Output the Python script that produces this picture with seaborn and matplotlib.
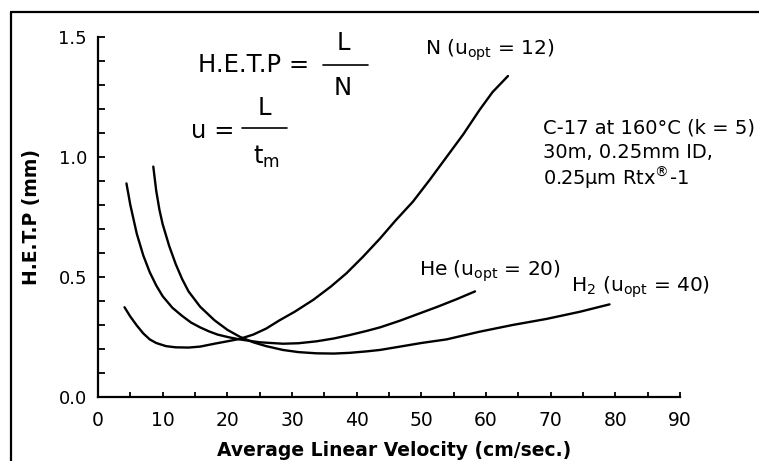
import numpy as np
import matplotlib
matplotlib.use("Agg")
import matplotlib.pyplot as plt
import seaborn as sns
from matplotlib.lines import Line2D

# van Deemter curves (x = cm/sec, y = mm)
n_x = [4.1, 5.0, 6.0, 7.0, 8.0, 9.0, 10.5, 12.0, 14.0, 15.8, 18.0, 20.0, 21.9, 24.0, 26.0,
       28.1, 30.4, 33.3, 36.0, 38.4, 41.0, 43.6, 46.0, 48.7, 51.3, 53.9, 56.5, 59.0, 61.0, 63.4]
n_y = [0.374, 0.335, 0.298, 0.265, 0.24, 0.225, 0.212, 0.207, 0.206, 0.21, 0.222, 0.232, 0.242, 0.26, 0.285,
       0.32, 0.355, 0.405, 0.46, 0.515, 0.585, 0.66, 0.735, 0.814, 0.905, 1.0, 1.095, 1.196, 1.27, 1.3375]

he_x = [4.4, 5.0, 6.0, 7.0, 8.0, 9.0, 10.0, 11.5, 13.0, 14.4, 15.8, 17.2, 18.5, 20.2, 21.9, 25.0, 28.6, 31.0,
        33.8, 36.5, 38.9, 41.5, 43.6, 46.7, 49.8, 52.5, 55.5, 58.3]
he_y = [0.89, 0.80, 0.68, 0.59, 0.52, 0.465, 0.42, 0.372, 0.338, 0.31, 0.29, 0.273, 0.26, 0.249, 0.24, 0.228,
        0.222, 0.224, 0.232, 0.244, 0.258, 0.275, 0.29, 0.318, 0.349, 0.376, 0.408, 0.44]

h2_x = [8.55, 9.0, 9.5, 10.0, 11.0, 12.0, 13.0, 14.0, 15.8, 18.0, 20.0, 22.0, 24.0, 26.0, 28.6, 31.0,
        33.8, 36.5, 38.9, 41.5, 43.6, 46.7, 50.0, 53.9, 59.0, 64.1, 69.3, 74.5, 79.1]
h2_y = [0.96, 0.86, 0.78, 0.72, 0.63, 0.555, 0.492, 0.44, 0.376, 0.32, 0.28, 0.25, 0.228, 0.212, 0.196, 0.187,
        0.182, 0.181, 0.184, 0.19, 0.196, 0.21, 0.225, 0.24, 0.272, 0.30, 0.325, 0.355, 0.386]

x_ticks = [0, 10, 20, 30, 40, 50, 60, 70, 80, 90]
y_ticks = [0.0, 0.5, 1.0, 1.5]
y_tick_labels = ["0.0", "0.5", "1.0", "1.5"]

sns.set_style("ticks")
plt.rcParams["font.family"] = ["DejaVu Sans"]
plt.rcParams["mathtext.fontset"] = "dejavusans"
for key in ["text.color", "axes.labelcolor", "xtick.color", "ytick.color", "axes.edgecolor"]:
    plt.rcParams[key] = "black"

W, H = 759, 461
fig = plt.figure(figsize=(W / 100, H / 100), dpi=100)
ax = fig.add_axes([98 / W, 64 / H, 582 / W, 360 / H])

for xs, ys in [(n_x, n_y), (he_x, he_y), (h2_x, h2_y)]:
    sns.lineplot(x=xs, y=ys, ax=ax, color="black", lw=1.7, sort=False, estimator=None)

ax.set_xlim(0, 90)
ax.set_ylim(0, 1.5)
sns.despine(ax=ax)
for s in ["left", "bottom"]:
    ax.spines[s].set_linewidth(1.6)

ax.set_xticks(x_ticks)
ax.set_xticks(np.arange(5, 90, 10), minor=True)
ax.set_yticks(y_ticks)
ax.set_yticklabels(y_tick_labels)
ax.set_yticks(np.arange(0.1, 1.5, 0.1), minor=True)
ax.tick_params(axis="x", which="both", direction="in", length=3.5, width=1.3, labelsize=13.5, pad=10)
ax.tick_params(axis="y", which="both", direction="in", length=5, width=1.3, labelsize=13, pad=8)

ax.set_xlabel("Average Linear Velocity (cm/sec.)", fontsize=13.5, fontweight="bold")
ax.set_ylabel("H.E.T.P (mm)", fontsize=13.5, fontweight="bold")
ax.xaxis.set_label_coords(0.5086, -0.122)
ax.yaxis.set_label_coords(-0.098, 0.5)


def px(x, y):
    # pixel position in the picture -> data coordinates
    return (x - 98) / 582 * 90, (397 - y) / 360 * 1.5


fs_eq = 17.5
ax.text(*px(198, 65), "H.E.T.P =", fontsize=fs_eq, ha="left", va="center")
ax.text(*px(343, 43), "L", fontsize=fs_eq, ha="center", va="center")
ax.text(*px(343, 88), "N", fontsize=fs_eq, ha="center", va="center")
ax.plot(*zip(px(323, 65), px(368, 65)), color="black", lw=1.2)

ax.text(*px(234, 131), "u =", fontsize=fs_eq, ha="right", va="center")
ax.text(*px(264, 108), "L", fontsize=fs_eq, ha="center", va="center")
ax.text(*px(266, 157), r"t$_{\mathrm{m}}$", fontsize=fs_eq, ha="center", va="center")
ax.plot(*zip(px(242, 128), px(287, 128)), color="black", lw=1.2)

fs_lab = 14.5
ax.text(*px(425, 50), r"N (u$_{\mathrm{opt}}$ = 12)", fontsize=fs_lab, ha="left", va="center")
ax.text(*px(419, 271), r"He (u$_{\mathrm{opt}}$ = 20)", fontsize=fs_lab, ha="left", va="center")
ax.text(*px(571, 287), r"H$_2$ (u$_{\mathrm{opt}}$ = 40)", fontsize=fs_lab, ha="left", va="center")

fs_c = 14
ax.text(*px(543, 128), "C-17 at 160°C (k = 5)", fontsize=fs_c, ha="left", va="center")
ax.text(*px(543, 153), "30m, 0.25mm ID,", fontsize=fs_c, ha="left", va="center")
ax.text(*px(543, 178), r"0.25µm Rtx$^{\mathrm{®}}$-1", fontsize=fs_c, ha="left", va="center")

# partial frame round the figure
fig.add_artist(Line2D([11 / W, 1.0], [1 - 12 / H, 1 - 12 / H], color="black", lw=1.6))
fig.add_artist(Line2D([11 / W, 11 / W], [0.0, 1 - 12 / H], color="black", lw=1.6))

fig.savefig("out.png", dpi=100)
